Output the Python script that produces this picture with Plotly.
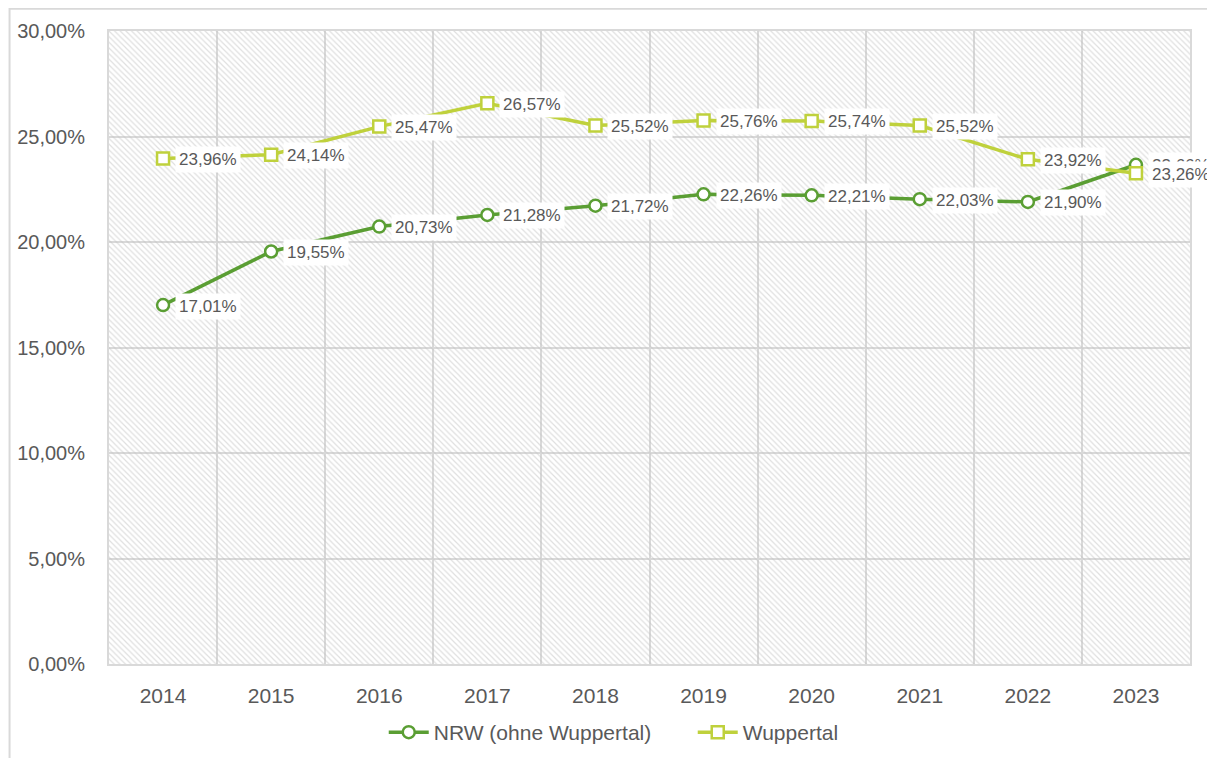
import plotly.graph_objects as go

# Daten
jahre = ["2014", "2015", "2016", "2017", "2018", "2019", "2020", "2021", "2022", "2023"]
nrw = [0.1701, 0.1955, 0.2073, 0.2128, 0.2172, 0.2226, 0.2221, 0.2203, 0.2190, 0.2366]
wuppertal = [0.2396, 0.2414, 0.2547, 0.2657, 0.2552, 0.2576, 0.2574, 0.2552, 0.2392, 0.2326]
y_ticks = [0, 0.05, 0.10, 0.15, 0.20, 0.25, 0.30]
y_max = 0.30

GRUEN = "#5a9e33"
HELLGRUEN = "#bfd13c"
GRAU = "#d9d9d9"
TEXT = "#595959"
FONT = "Liberation Sans, Arial, sans-serif"


def fmt(v):
    return f"{v * 100:.2f}%".replace(".", ",")


fig = go.Figure()

# schraffierter Hintergrund der Zeichenfläche
fig.add_trace(go.Bar(
    x=jahre, y=[y_max] * len(jahre), width=1,
    marker=dict(color="rgba(0,0,0,0)", line=dict(width=0),
                pattern=dict(shape="\\", fgcolor="#c0c0c0", size=4, solidity=0.3,
                             bgcolor="rgba(0,0,0,0)")),
    hoverinfo="skip", showlegend=False,
))

fig.add_trace(go.Scatter(
    x=jahre, y=nrw, name="NRW (ohne Wuppertal)", mode="lines+markers",
    line=dict(color=GRUEN, width=3.5),
    marker=dict(symbol="circle", size=12, color="white", line=dict(color=GRUEN, width=2.5)),
))
fig.add_trace(go.Scatter(
    x=jahre, y=wuppertal, name="Wuppertal", mode="lines+markers",
    line=dict(color=HELLGRUEN, width=3.5),
    marker=dict(symbol="square", size=12, color="white", line=dict(color=HELLGRUEN, width=2.5)),
))

# Datenbeschriftungen mit weißem Hintergrund (x als Kategorie-Index)
for serie in (nrw, wuppertal):
    for i, v in enumerate(serie):
        fig.add_annotation(
            x=i, y=v, text=fmt(v), showarrow=False, xanchor="left", yanchor="middle",
            xshift=12, yshift=-1, bgcolor="white", borderpad=3,
            font=dict(family=FONT, size=17, color=TEXT),
        )

# Rahmen um das gesamte Diagramm
fig.add_shape(type="rect", xref="paper", yref="paper",
              x0=-0.092, x1=1.0185, y0=-0.2, y1=1.035,
              line=dict(color=GRAU, width=2), layer="below")

fig.update_layout(
    width=1207, height=750,
    margin=dict(l=101, r=25, t=23, b=94, autoexpand=False),
    paper_bgcolor="white", plot_bgcolor="white",
    separators=",.",
    font=dict(family=FONT, size=20, color=TEXT),
    barmode="overlay",
    legend=dict(orientation="h", x=0.54, xanchor="center", yref="container", y=0.034,
                yanchor="middle", font=dict(family=FONT, size=21, color=TEXT), itemwidth=40,
                entrywidth=254),
    showlegend=True,
)
fig.update_xaxes(
    type="category", tickson="boundaries", showgrid=True, gridcolor=GRAU, gridwidth=2,
    showline=True, linecolor=GRAU, linewidth=2, mirror=True, ticks="", ticklabelstandoff=12,
    tickfont=dict(size=21), range=[-0.5, 9.5], automargin=False,
)
fig.update_yaxes(
    range=[0, y_max], tickvals=y_ticks, tickformat=".2%", showgrid=True, gridcolor=GRAU,
    gridwidth=2, showline=True, linecolor=GRAU, linewidth=2, mirror=True, zeroline=False,
    ticks="", ticklabelstandoff=18, tickfont=dict(size=20), automargin=False,
)

fig.write_html("out.html")
